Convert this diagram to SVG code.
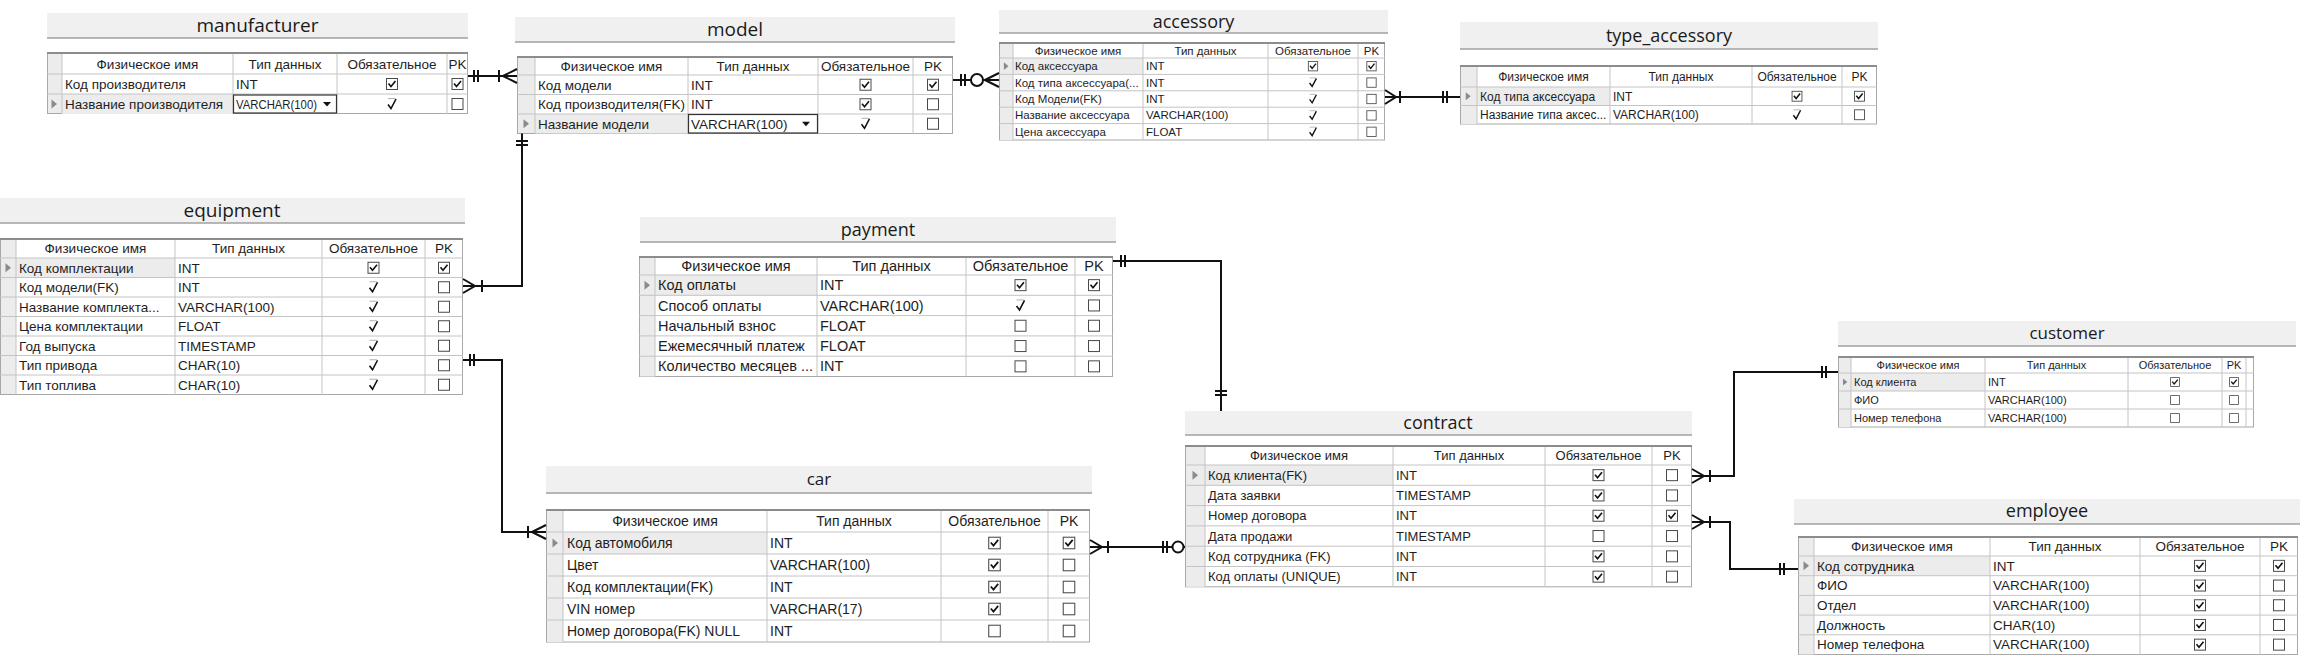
<svg xmlns="http://www.w3.org/2000/svg" width="2300" height="658" viewBox="0 0 2300 658">
<style>
.bg{fill:#fff}
.tb{fill:#f0f0f0}
.tbl{stroke:#a0a0a0;stroke-width:1.5}
.tt{font-family:"Open Sans","Liberation Sans",sans-serif;fill:#1a1a1a;text-anchor:middle}
.box{fill:#fff;stroke:#a8a8a8;stroke-width:1}
.ind{fill:#ececec}
.sel{fill:#ececec}
.g{stroke:#c4c4c4;stroke-width:1;fill:none}
.top{stroke:#8c8c8c;stroke-width:2}
.t{font-family:"Liberation Sans",Arial,sans-serif;fill:#1e1e1e}
.c{text-anchor:middle}
.cn{stroke:#111;stroke-width:2;fill:none}
.dd{fill:#fff;stroke:#333;stroke-width:1.2}
</style>
<defs>
<g id="on"><rect x="-5.5" y="-5.5" width="11" height="11" fill="#fff" stroke="#4a4a4a"/><path d="M-3.5,-0.5 L-1,2.5 L3.5,-3" fill="none" stroke="#111" stroke-width="1.6"/></g>
<g id="off"><rect x="-5.5" y="-5.5" width="11" height="11" fill="#fff" stroke="#4a4a4a"/></g>
<g id="tk"><path d="M-4,0.5 L-1,4.5 L4,-5" fill="none" stroke="#111" stroke-width="1.6"/><path d="M-4,-5.5 H3.5" stroke="#b0b0b0" fill="none"/></g>
<path id="tri" d="M-2.5,-4.5 L3,0 L-2.5,4.5 Z" fill="#8a8a8a"/>
<path id="arr" d="M-4,-2 H4 L0,2.5 Z" fill="#111"/>
</defs>
<rect class="bg" width="2300" height="658"/>

<g id="manufacturer" class="t" font-size="13.5">
<rect class="tb" x="47" y="13" width="421" height="25"/>
<line class="tbl" x1="47" y1="38" x2="468" y2="38"/>
<text class="tt" x="257.5" y="32" font-size="19">manufacturer</text>
<rect class="box" x="47.5" y="53.5" width="420" height="60"/>
<rect class="ind" x="48" y="54" width="14" height="59"/>
<rect class="sel" x="62" y="94" width="171" height="20"/>
<path class="g" d="M47,74H468M47,94H468M62,53V114M233,53V114M337,53V114M447,53V114"/>
<line class="top" x1="47" y1="53" x2="468" y2="53"/>
<text class="c" x="147.5" y="68.5">Физическое имя</text>
<text class="c" x="285" y="68.5">Тип данных</text>
<text class="c" x="392" y="68.5">Обязательное</text>
<text class="c" x="457.5" y="68.5">PK</text>
<text x="65" y="88.7">Код производителя</text>
<text x="236" y="88.7">INT</text>
<use href="#on" x="392" y="84"/>
<use href="#on" x="457.5" y="84"/>
<use href="#tri" x="54" y="104"/>
<text x="65" y="108.7">Название производителя</text>
<rect class="dd" x="233.5" y="95" width="103" height="18"/>
<text x="236" y="108.7" textLength="81" lengthAdjust="spacingAndGlyphs">VARCHAR(100)</text>
<use href="#arr" x="327" y="104"/>
<use href="#tk" x="392" y="104"/>
<use href="#off" x="457.5" y="104"/>
</g>

<g id="model" class="t" font-size="13.5">
<rect class="tb" x="515" y="17" width="440" height="25"/>
<line class="tbl" x1="515" y1="42" x2="955" y2="42"/>
<text class="tt" x="735" y="36" font-size="19">model</text>
<rect class="box" x="517.5" y="57.5" width="435" height="76"/>
<rect class="ind" x="518" y="58" width="17" height="75"/>
<rect class="sel" x="535" y="114" width="153" height="19.5"/>
<path class="g" d="M517,75H953M517,94.5H953M517,114H953M535,57V133.5M688,57V133.5M818,57V133.5M913,57V133.5"/>
<line class="top" x1="517" y1="57" x2="953" y2="57"/>
<text class="c" x="611.5" y="70.7">Физическое имя</text>
<text class="c" x="753" y="70.7">Тип данных</text>
<text class="c" x="865.5" y="70.7">Обязательное</text>
<text class="c" x="933" y="70.7">PK</text>
<text x="538" y="89.5">Код модели</text><text x="691" y="89.5">INT</text>
<use href="#on" x="865.5" y="84.75"/><use href="#on" x="933" y="84.75"/>
<text x="538" y="109">Код производителя(FK)</text><text x="691" y="109">INT</text>
<use href="#on" x="865.5" y="104.25"/><use href="#off" x="933" y="104.25"/>
<use href="#tri" x="526" y="123.75"/>
<text x="538" y="128.5">Название модели</text>
<rect class="dd" x="688.5" y="114.5" width="129" height="18.5"/>
<text x="691" y="128.5">VARCHAR(100)</text>
<use href="#arr" x="806" y="123.75"/>
<use href="#tk" x="865.5" y="123.75"/><use href="#off" x="933" y="123.75"/>
</g>

<g id="accessory" class="t" font-size="11.5">
<rect class="tb" x="999" y="10" width="389" height="23"/>
<line class="tbl" x1="999" y1="33" x2="1388" y2="33"/>
<text class="tt" x="1193.5" y="27.5" font-size="18">accessory</text>
<rect class="box" x="999.5" y="43.5" width="385" height="96.5"/>
<rect class="ind" x="1000" y="44" width="13" height="96"/>
<rect class="sel" x="1013" y="58" width="130" height="16.4"/>
<path class="g" d="M999,58H1385M999,74.4H1385M999,90.8H1385M999,107.2H1385M999,123.6H1385M1013,43V140M1143,43V140M1268,43V140M1358,43V140"/>
<line class="top" x1="999" y1="43" x2="1385" y2="43"/>
<text class="c" x="1078" y="54.5">Физическое имя</text>
<text class="c" x="1205.5" y="54.5">Тип данных</text>
<text class="c" x="1313" y="54.5">Обязательное</text>
<text class="c" x="1371.5" y="54.5">PK</text>
<use href="#tri" transform="translate(1006 66.2) scale(0.85)"/>
<text x="1015" y="70.2">Код аксессуара</text><text x="1146" y="70.2">INT</text>
<use href="#on" transform="translate(1313 66.2) scale(0.85)"/><use href="#on" transform="translate(1371.5 66.2) scale(0.85)"/>
<text x="1015" y="86.6">Код типа аксессуара(...</text><text x="1146" y="86.6">INT</text>
<use href="#tk" transform="translate(1313 82.6) scale(0.85)"/><use href="#off" transform="translate(1371.5 82.6) scale(0.85)"/>
<text x="1015" y="103">Код Модели(FK)</text><text x="1146" y="103">INT</text>
<use href="#tk" transform="translate(1313 99) scale(0.85)"/><use href="#off" transform="translate(1371.5 99) scale(0.85)"/>
<text x="1015" y="119.4">Название аксессуара</text><text x="1146" y="119.4">VARCHAR(100)</text>
<use href="#tk" transform="translate(1313 115.4) scale(0.85)"/><use href="#off" transform="translate(1371.5 115.4) scale(0.85)"/>
<text x="1015" y="135.8">Цена аксессуара</text><text x="1146" y="135.8">FLOAT</text>
<use href="#tk" transform="translate(1313 131.8) scale(0.85)"/><use href="#off" transform="translate(1371.5 131.8) scale(0.85)"/>
</g>

<g id="type_accessory" class="t" font-size="12">
<rect class="tb" x="1460" y="22" width="418" height="27"/>
<line class="tbl" x1="1460" y1="49" x2="1878" y2="49"/>
<text class="tt" x="1669" y="41.5" font-size="18">type_accessory</text>
<rect class="box" x="1460.5" y="66.5" width="416" height="57.5"/>
<rect class="ind" x="1461" y="67" width="16" height="57"/>
<rect class="sel" x="1477" y="87" width="133" height="18.5"/>
<path class="g" d="M1460,87H1877M1460,105.5H1877M1477,66V124M1610,66V124M1752,66V124M1842,66V124"/>
<line class="top" x1="1460" y1="66" x2="1877" y2="66"/>
<text class="c" x="1543.5" y="80.7">Физическое имя</text>
<text class="c" x="1681" y="80.7">Тип данных</text>
<text class="c" x="1797" y="80.7">Обязательное</text>
<text class="c" x="1859.5" y="80.7">PK</text>
<use href="#tri" transform="translate(1468 96.25) scale(0.9)"/>
<text x="1480" y="100.5">Код типа аксессуара</text><text x="1613" y="100.5">INT</text>
<use href="#on" transform="translate(1797 96.25) scale(0.9)"/><use href="#on" transform="translate(1859.5 96.25) scale(0.9)"/>
<text x="1480" y="119">Название типа аксес...</text><text x="1613" y="119">VARCHAR(100)</text>
<use href="#tk" transform="translate(1797 114.75) scale(0.9)"/><use href="#off" transform="translate(1859.5 114.75) scale(0.9)"/>
</g>

<g id="equipment" class="t" font-size="13.5">
<rect class="tb" x="0" y="198" width="465" height="25"/>
<line class="tbl" x1="0" y1="223" x2="465" y2="223"/>
<text class="tt" x="232" y="217" font-size="19">equipment</text>
<rect class="box" x="0.5" y="239.5" width="462" height="155"/>
<rect class="ind" x="1" y="240" width="15" height="154"/>
<rect class="sel" x="16" y="258" width="159" height="19.5"/>
<path class="g" d="M0,258H463M0,277.5H463M0,297H463M0,316.5H463M0,336H463M0,355.5H463M0,375H463M16,239V394.5M175,239V394.5M322,239V394.5M425,239V394.5"/>
<line class="top" x1="0" y1="239" x2="463" y2="239"/>
<text class="c" x="95.5" y="253.2">Физическое имя</text>
<text class="c" x="248.5" y="253.2">Тип данных</text>
<text class="c" x="373.5" y="253.2">Обязательное</text>
<text class="c" x="444" y="253.2">PK</text>
<use href="#tri" x="8" y="267.75"/>
<text x="19" y="272.5">Код комплектации</text><text x="178" y="272.5">INT</text>
<use href="#on" x="373.5" y="267.75"/><use href="#on" x="444" y="267.75"/>
<text x="19" y="292">Код модели(FK)</text><text x="178" y="292">INT</text>
<use href="#tk" x="373.5" y="287.25"/><use href="#off" x="444" y="287.25"/>
<text x="19" y="311.5">Название комплекта...</text><text x="178" y="311.5">VARCHAR(100)</text>
<use href="#tk" x="373.5" y="306.75"/><use href="#off" x="444" y="306.75"/>
<text x="19" y="331">Цена комплектации</text><text x="178" y="331">FLOAT</text>
<use href="#tk" x="373.5" y="326.25"/><use href="#off" x="444" y="326.25"/>
<text x="19" y="350.5">Год выпуска</text><text x="178" y="350.5">TIMESTAMP</text>
<use href="#tk" x="373.5" y="345.75"/><use href="#off" x="444" y="345.75"/>
<text x="19" y="370">Тип привода</text><text x="178" y="370">CHAR(10)</text>
<use href="#tk" x="373.5" y="365.25"/><use href="#off" x="444" y="365.25"/>
<text x="19" y="389.5">Тип топлива</text><text x="178" y="389.5">CHAR(10)</text>
<use href="#tk" x="373.5" y="384.75"/><use href="#off" x="444" y="384.75"/>
</g>

<g id="payment" class="t" font-size="14.5">
<rect class="tb" x="640" y="217" width="476" height="25"/>
<line class="tbl" x1="640" y1="242" x2="1116" y2="242"/>
<text class="tt" x="878" y="236" font-size="18">payment</text>
<rect class="box" x="639.5" y="257.5" width="473" height="119"/>
<rect class="ind" x="640" y="258" width="15" height="118.5"/>
<rect class="sel" x="655" y="275" width="162" height="20.3"/>
<path class="g" d="M639,275H1113M639,295.3H1113M639,315.6H1113M639,335.9H1113M639,356.2H1113M655,257V376.5M817,257V376.5M966,257V376.5M1075,257V376.5"/>
<line class="top" x1="639" y1="257" x2="1113" y2="257"/>
<text class="c" x="736" y="271">Физическое имя</text>
<text class="c" x="891.5" y="271">Тип данных</text>
<text class="c" x="1020.5" y="271">Обязательное</text>
<text class="c" x="1094" y="271">PK</text>
<use href="#tri" x="647" y="285.15"/>
<text x="658" y="290.2">Код оплаты</text><text x="820" y="290.2">INT</text>
<use href="#on" x="1020.5" y="285.15"/><use href="#on" x="1094" y="285.15"/>
<text x="658" y="310.5">Способ оплаты</text><text x="820" y="310.5">VARCHAR(100)</text>
<use href="#tk" x="1020.5" y="305.45"/><use href="#off" x="1094" y="305.45"/>
<text x="658" y="330.8">Начальный взнос</text><text x="820" y="330.8">FLOAT</text>
<use href="#off" x="1020.5" y="325.75"/><use href="#off" x="1094" y="325.75"/>
<text x="658" y="351.1">Ежемесячный платеж</text><text x="820" y="351.1">FLOAT</text>
<use href="#off" x="1020.5" y="346.05"/><use href="#off" x="1094" y="346.05"/>
<text x="658" y="371.4">Количество месяцев ...</text><text x="820" y="371.4">INT</text>
<use href="#off" x="1020.5" y="366.35"/><use href="#off" x="1094" y="366.35"/>
</g>

<g id="car" class="t" font-size="14">
<rect class="tb" x="546" y="466" width="546" height="27"/>
<line class="tbl" x1="546" y1="493" x2="1092" y2="493"/>
<text class="tt" x="819" y="485" font-size="17">car</text>
<rect class="box" x="546.5" y="510.5" width="543" height="131.5"/>
<rect class="ind" x="547" y="511" width="16" height="131"/>
<rect class="sel" x="563" y="532" width="204" height="22"/>
<path class="g" d="M546,532H1090M546,554H1090M546,576H1090M546,598H1090M546,620H1090M563,510V642M767,510V642M941,510V642M1048,510V642"/>
<line class="top" x1="546" y1="510" x2="1090" y2="510"/>
<text class="c" x="665" y="525.9">Физическое имя</text>
<text class="c" x="854" y="525.9">Тип данных</text>
<text class="c" x="994.5" y="525.9">Обязательное</text>
<text class="c" x="1069" y="525.9">PK</text>
<use href="#tri" x="555" y="543"/>
<text x="567" y="547.9">Код автомобиля</text><text x="770" y="547.9">INT</text>
<use href="#on" transform="translate(994.5 543) scale(1.05)"/><use href="#on" transform="translate(1069 543) scale(1.05)"/>
<text x="567" y="569.9">Цвет</text><text x="770" y="569.9">VARCHAR(100)</text>
<use href="#on" transform="translate(994.5 565) scale(1.05)"/><use href="#off" transform="translate(1069 565) scale(1.05)"/>
<text x="567" y="591.9">Код комплектации(FK)</text><text x="770" y="591.9">INT</text>
<use href="#on" transform="translate(994.5 587) scale(1.05)"/><use href="#off" transform="translate(1069 587) scale(1.05)"/>
<text x="567" y="613.9">VIN номер</text><text x="770" y="613.9">VARCHAR(17)</text>
<use href="#on" transform="translate(994.5 609) scale(1.05)"/><use href="#off" transform="translate(1069 609) scale(1.05)"/>
<text x="567" y="635.9">Номер договора(FK) NULL</text><text x="770" y="635.9">INT</text>
<use href="#off" transform="translate(994.5 631) scale(1.05)"/><use href="#off" transform="translate(1069 631) scale(1.05)"/>
</g>

<g id="contract" class="t" font-size="13">
<rect class="tb" x="1185" y="411" width="507" height="24"/>
<line class="tbl" x1="1185" y1="435" x2="1692" y2="435"/>
<text class="tt" x="1438" y="429" font-size="18">contract</text>
<rect class="box" x="1185.5" y="446.5" width="506" height="140.3"/>
<rect class="ind" x="1186" y="447" width="19" height="139.8"/>
<rect class="sel" x="1205" y="465" width="188" height="20.3"/>
<path class="g" d="M1185,465H1692M1185,485.3H1692M1185,505.6H1692M1185,525.9H1692M1185,546.2H1692M1185,566.5H1692M1205,446V586.8M1393,446V586.8M1545,446V586.8M1652,446V586.8"/>
<line class="top" x1="1185" y1="446" x2="1692" y2="446"/>
<text class="c" x="1299" y="460">Физическое имя</text>
<text class="c" x="1469" y="460">Тип данных</text>
<text class="c" x="1598.5" y="460">Обязательное</text>
<text class="c" x="1672" y="460">PK</text>
<use href="#tri" x="1195" y="475.15"/>
<text x="1208" y="479.7">Код клиента(FK)</text><text x="1396" y="479.7">INT</text>
<use href="#on" x="1598.5" y="475.15"/><use href="#off" x="1672" y="475.15"/>
<text x="1208" y="500">Дата заявки</text><text x="1396" y="500">TIMESTAMP</text>
<use href="#on" x="1598.5" y="495.45"/><use href="#off" x="1672" y="495.45"/>
<text x="1208" y="520.3">Номер договора</text><text x="1396" y="520.3">INT</text>
<use href="#on" x="1598.5" y="515.75"/><use href="#on" x="1672" y="515.75"/>
<text x="1208" y="540.6">Дата продажи</text><text x="1396" y="540.6">TIMESTAMP</text>
<use href="#off" x="1598.5" y="536.05"/><use href="#off" x="1672" y="536.05"/>
<text x="1208" y="560.9">Код сотрудника (FK)</text><text x="1396" y="560.9">INT</text>
<use href="#on" x="1598.5" y="556.35"/><use href="#off" x="1672" y="556.35"/>
<text x="1208" y="581.2">Код оплаты (UNIQUE)</text><text x="1396" y="581.2">INT</text>
<use href="#on" x="1598.5" y="576.65"/><use href="#off" x="1672" y="576.65"/>
</g>

<g id="customer" class="t" font-size="11">
<rect class="tb" x="1838" y="321" width="458" height="25"/>
<line class="tbl" x1="1838" y1="346" x2="2296" y2="346"/>
<text class="tt" x="2067" y="339" font-size="17">customer</text>
<rect class="box" x="1838.5" y="357.5" width="415" height="69.5"/>
<rect class="ind" x="1839" y="358" width="12" height="69"/>
<rect class="sel" x="1851" y="373" width="134" height="18"/>
<path class="g" d="M1838,373H2254M1838,391H2254M1838,409H2254M1851,357V427M1985,357V427M2128,357V427M2222,357V427M2246,357V427"/>
<line class="top" x1="1838" y1="357" x2="2254" y2="357"/>
<text class="c" x="1918" y="368.8">Физическое имя</text>
<text class="c" x="2056.5" y="368.8">Тип данных</text>
<text class="c" x="2175" y="368.8">Обязательное</text>
<text class="c" x="2234" y="368.8">PK</text>
<use href="#tri" transform="translate(1845 382) scale(0.8)"/>
<text x="1854" y="385.8">Код клиента</text><text x="1988" y="385.8">INT</text>
<use href="#on" transform="translate(2175 382) scale(0.8)"/><use href="#on" transform="translate(2234 382) scale(0.8)"/>
<text x="1854" y="403.8">ФИО</text><text x="1988" y="403.8">VARCHAR(100)</text>
<use href="#off" transform="translate(2175 400) scale(0.8)"/><use href="#off" transform="translate(2234 400) scale(0.8)"/>
<text x="1854" y="421.8">Номер телефона</text><text x="1988" y="421.8">VARCHAR(100)</text>
<use href="#off" transform="translate(2175 418) scale(0.8)"/><use href="#off" transform="translate(2234 418) scale(0.8)"/>
</g>

<g id="employee" class="t" font-size="13.5">
<rect class="tb" x="1794" y="499" width="506" height="25"/>
<line class="tbl" x1="1794" y1="524" x2="2300" y2="524"/>
<text class="tt" x="2047" y="517" font-size="18">employee</text>
<rect class="box" x="1798.5" y="537.5" width="499" height="117"/>
<rect class="ind" x="1799" y="538" width="15" height="116.5"/>
<rect class="sel" x="1814" y="556" width="176" height="19.7"/>
<path class="g" d="M1798,556H2298M1798,575.7H2298M1798,595.4H2298M1798,615.1H2298M1798,634.8H2298M1814,537V654.5M1990,537V654.5M2140,537V654.5M2260,537V654.5"/>
<line class="top" x1="1798" y1="537" x2="2298" y2="537"/>
<text class="c" x="1902" y="551.2">Физическое имя</text>
<text class="c" x="2065" y="551.2">Тип данных</text>
<text class="c" x="2200" y="551.2">Обязательное</text>
<text class="c" x="2279" y="551.2">PK</text>
<use href="#tri" x="1806" y="565.85"/>
<text x="1817" y="570.6">Код сотрудника</text><text x="1993" y="570.6">INT</text>
<use href="#on" x="2200" y="565.85"/><use href="#on" x="2279" y="565.85"/>
<text x="1817" y="590.3">ФИО</text><text x="1993" y="590.3">VARCHAR(100)</text>
<use href="#on" x="2200" y="585.55"/><use href="#off" x="2279" y="585.55"/>
<text x="1817" y="610">Отдел</text><text x="1993" y="610">VARCHAR(100)</text>
<use href="#on" x="2200" y="605.25"/><use href="#off" x="2279" y="605.25"/>
<text x="1817" y="629.7">Должность</text><text x="1993" y="629.7">CHAR(10)</text>
<use href="#on" x="2200" y="624.95"/><use href="#off" x="2279" y="624.95"/>
<text x="1817" y="649.4">Номер телефона</text><text x="1993" y="649.4">VARCHAR(100)</text>
<use href="#on" x="2200" y="644.65"/><use href="#off" x="2279" y="644.65"/>
</g>

<g id="connectors">
<path class="cn" d="M468,76H517M474,70V82M478,70V82M499,70V82M503,76L517,69M503,76L517,83"/>
<path class="cn" d="M953,80H999M961,74V86M965,74V86M985,80L999,73M985,80L999,87"/>
<circle cx="977" cy="80" r="6" fill="#fff" stroke="#111" stroke-width="2"/>
<path class="cn" d="M1385,97H1460M1385,90L1396,97L1385,104M1400,91V103M1443,91V103M1447,91V103"/>
<path class="cn" d="M463,286H522V133.5M463,279L475,286L463,293M482,280V292M516,141H528M516,145H528"/>
<path class="cn" d="M463,360H502V532H546M470,354V366M474,354V366M528,526V538M532,532L546,525M532,532L546,539"/>
<path class="cn" d="M1090,547H1185M1090,540L1102,547L1090,554M1108,541V553M1163,541V553M1167,541V553"/>
<circle cx="1178" cy="547" r="5.5" fill="#fff" stroke="#111" stroke-width="2"/>
<path class="cn" d="M1113,261H1221V411M1121,255V267M1125,255V267M1215,391H1227M1215,395H1227"/>
<path class="cn" d="M1692,476H1734V372H1838M1692,469L1704,476L1692,483M1710,470V482M1822,366V378M1826,366V378"/>
<path class="cn" d="M1692,522H1730V569H1798M1692,515L1704,522L1692,529M1710,516V528M1780,563V575M1784,563V575"/>
</g>
</svg>
